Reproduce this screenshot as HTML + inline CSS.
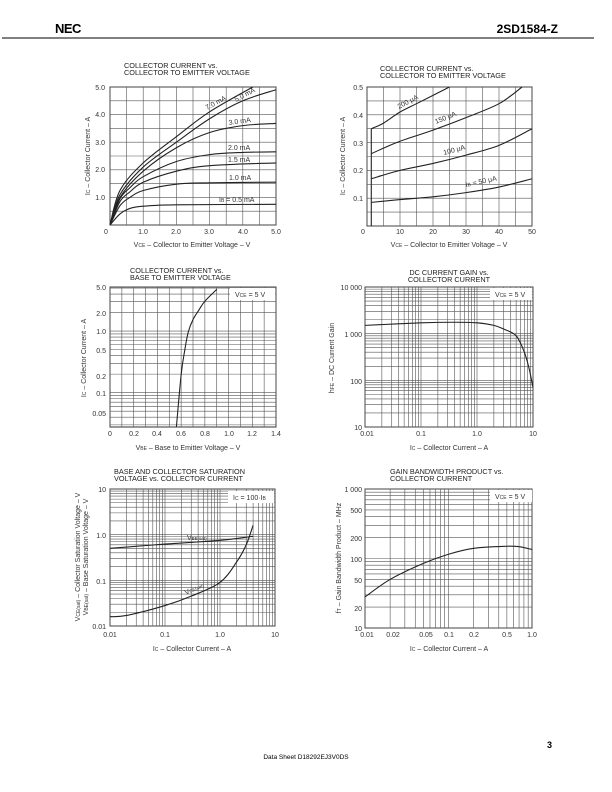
<!DOCTYPE html>
<html><head><meta charset="utf-8"><style>
html,body{margin:0;padding:0;background:#fff;}
svg{display:block;font-family:"Liberation Sans",sans-serif;}
text{fill:#333;font-size:7px;}
.t{font-size:7.3px;fill:#222;}
.g{stroke:#555;stroke-width:0.6;fill:none}
.c{stroke:#222;stroke-width:1.1;fill:none}
</style></head><body>
<svg id="s" width="612" height="792" viewBox="0 0 612 792">
<rect width="612" height="792" fill="#fff"/>
<text x="55" y="33" style="font-size:13px;font-weight:bold;fill:#000;letter-spacing:-0.5px">NEC</text>
<text x="558" y="33" text-anchor="end" style="font-size:12px;font-weight:bold;fill:#000">2SD1584-Z</text>
<line x1="2" y1="38" x2="594" y2="38" stroke="#000" stroke-width="1"/>
<text x="306" y="759" text-anchor="middle" style="font-size:6.5px;fill:#000">Data Sheet  D18292EJ3V0DS</text>
<text x="547" y="748" style="font-size:9px;font-weight:bold;fill:#000">3</text>
<g id="grids"></g><g id="curves"></g>

<!-- Chart 1 -->
<text class="t" x="124" y="68">COLLECTOR CURRENT  vs.</text>
<text class="t" x="124" y="75">COLLECTOR TO EMITTER VOLTAGE</text>
<g text-anchor="end"><text x="105" y="90">5.0</text><text x="105" y="117">4.0</text><text x="105" y="145">3.0</text><text x="105" y="172">2.0</text><text x="105" y="200">1.0</text></g>
<g text-anchor="middle"><text x="106" y="234">0</text><text x="143" y="234">1.0</text><text x="176" y="234">2.0</text><text x="209" y="234">3.0</text><text x="243" y="234">4.0</text><text x="276" y="234">5.0</text>
<text x="192" y="247">V<tspan font-size="5">CE</tspan> – Collector to Emitter Voltage – V</text>
<text transform="translate(90,156) rotate(-90)">I<tspan font-size="5">C</tspan> – Collector Current – A</text></g>
<text x="207" y="110" transform="rotate(-28 207 110)">7.0 mA</text>
<text x="236" y="102" transform="rotate(-28 236 102)">5.0 mA</text>
<text x="229" y="125" transform="rotate(-8 229 125)">3.0 mA</text>
<text x="228" y="150">2.0 mA</text>
<text x="228" y="162">1.5 mA</text>
<text x="229" y="180">1.0 mA</text>
<text x="219" y="202">I<tspan font-size="5">B</tspan> = 0.5 mA</text>

<!-- Chart 2 -->
<text class="t" x="380" y="71">COLLECTOR CURRENT  vs.</text>
<text class="t" x="380" y="78">COLLECTOR TO EMITTER VOLTAGE</text>
<g text-anchor="end"><text x="363" y="90">0.5</text><text x="363" y="118">0.4</text><text x="363" y="146">0.3</text><text x="363" y="173">0.2</text><text x="363" y="201">0.1</text></g>
<g text-anchor="middle"><text x="363" y="234">0</text><text x="400" y="234">10</text><text x="433" y="234">20</text><text x="466" y="234">30</text><text x="499" y="234">40</text><text x="532" y="234">50</text>
<text x="449" y="247">V<tspan font-size="5">CE</tspan> – Collector to Emitter Voltage – V</text>
<text transform="translate(345,156) rotate(-90)">I<tspan font-size="5">C</tspan> – Collector Current – A</text></g>
<text x="399" y="109" transform="rotate(-28 399 109)">200 μA</text>
<text x="436" y="124" transform="rotate(-22 436 124)">150 μA</text>
<text x="444" y="155" transform="rotate(-15 444 155)">100 μA</text>
<text x="466" y="187" transform="rotate(-12 466 187)">I<tspan font-size="5">B</tspan> = 50 μA</text>

<!-- Chart 3 -->
<text class="t" x="130" y="273">COLLECTOR CURRENT  vs.</text>
<text class="t" x="130" y="280">BASE TO EMITTER VOLTAGE</text>
<g text-anchor="end"><text x="106" y="290">5.0</text><text x="106" y="316">2.0</text><text x="106" y="334">1.0</text><text x="106" y="353">0.5</text><text x="106" y="379">0.2</text><text x="106" y="396">0.1</text><text x="106" y="416">0.05</text></g>
<g text-anchor="middle"><text x="110" y="436">0</text><text x="134" y="436">0.2</text><text x="157" y="436">0.4</text><text x="181" y="436">0.6</text><text x="205" y="436">0.8</text><text x="229" y="436">1.0</text><text x="252" y="436">1.2</text><text x="276" y="436">1.4</text>
<text x="188" y="450">V<tspan font-size="5">BE</tspan> – Base to Emitter Voltage – V</text>
<text transform="translate(86,358) rotate(-90)">I<tspan font-size="5">C</tspan> – Collector Current – A</text></g>
<rect x="230" y="288" width="45" height="12" fill="#fff"/><text x="235" y="297">V<tspan font-size="5">CE</tspan> = 5 V</text>

<!-- Chart 4 -->
<g text-anchor="middle"><text class="t" x="449" y="275">DC CURRENT GAIN vs.</text><text class="t" x="449" y="282">COLLECTOR CURRENT</text></g>
<g text-anchor="end"><text x="362" y="290">10 000</text><text x="362" y="337">1 000</text><text x="362" y="384">100</text><text x="362" y="430">10</text></g>
<g text-anchor="middle"><text x="367" y="436">0.01</text><text x="421" y="436">0.1</text><text x="477" y="436">1.0</text><text x="533" y="436">10</text>
<text x="449" y="450">I<tspan font-size="5">C</tspan> – Collector Current – A</text>
<text transform="translate(334,358) rotate(-90)">h<tspan font-size="5">FE</tspan> – DC Current Gain</text></g>
<rect x="490" y="288" width="42" height="12" fill="#fff"/><text x="495" y="297">V<tspan font-size="5">CE</tspan> = 5 V</text>

<!-- Chart 5 -->
<text class="t" x="114" y="474">BASE AND COLLECTOR SATURATION</text>
<text class="t" x="114" y="481">VOLTAGE vs. COLLECTOR CURRENT</text>
<g text-anchor="end"><text x="106" y="492">10</text><text x="106" y="538">1.0</text><text x="106" y="584">0.1</text><text x="106" y="629">0.01</text></g>
<g text-anchor="middle"><text x="110" y="637">0.01</text><text x="165" y="637">0.1</text><text x="220" y="637">1.0</text><text x="275" y="637">10</text>
<text x="192" y="651">I<tspan font-size="5">C</tspan> – Collector Current – A</text>
<text transform="translate(80,557) rotate(-90)">V<tspan font-size="5">CE(sat)</tspan> – Collector Saturation Voltage – V</text>
<text transform="translate(88,557) rotate(-90)">V<tspan font-size="5">BE(sat)</tspan> – Base Saturation Voltage – V</text></g>
<rect x="228" y="491" width="46" height="12" fill="#fff"/><text x="233" y="500">I<tspan font-size="5">C</tspan> = 100·I<tspan font-size="5">B</tspan></text>
<text x="187" y="540" font-size="6">V<tspan font-size="4.5">BE(sat)</tspan></text>
<text x="186" y="595" font-size="6" transform="rotate(-25 186 595)">V<tspan font-size="4.5">CE(sat)</tspan></text>

<!-- Chart 6 -->
<text class="t" x="390" y="474">GAIN BANDWIDTH PRODUCT vs.</text>
<text class="t" x="390" y="481">COLLECTOR CURRENT</text>
<g text-anchor="end"><text x="362" y="492">1 000</text><text x="362" y="513">500</text><text x="362" y="541">200</text><text x="362" y="562">100</text><text x="362" y="583">50</text><text x="362" y="611">20</text><text x="362" y="631">10</text></g>
<g text-anchor="middle"><text x="367" y="637">0.01</text><text x="393" y="637">0.02</text><text x="426" y="637">0.05</text><text x="449" y="637">0.1</text><text x="474" y="637">0.2</text><text x="507" y="637">0.5</text><text x="532" y="637">1.0</text>
<text x="449" y="651">I<tspan font-size="5">C</tspan> – Collector Current – A</text>
<text transform="translate(341,558) rotate(-90)">f<tspan font-size="5">T</tspan> – Gain Bandwidth Product – MHz</text></g>
<rect x="490" y="490" width="42" height="12" fill="#fff"/><text x="495" y="499">V<tspan font-size="5">CE</tspan> = 5 V</text>
</svg>
<script>
var NS="http://www.w3.org/2000/svg";
var G=document.getElementById('grids'),C=document.getElementById('curves');
function el(p,t,a){var e=document.createElementNS(NS,t);for(var k in a)e.setAttribute(k,a[k]);p.insertBefore(e,p.firstChild);return e;}
function lin(n){var r=[];for(var i=0;i<=n;i++)r.push(i/n);return r;}
function lg(dec){var r=[];for(var d=0;d<dec;d++)for(var k=1;k<10;k++)r.push((d+Math.log10(k))/dec);r.push(1);return r;}
function lgr(a,b){var r=[],la=Math.log10(a),lb=Math.log10(b);for(var d=Math.floor(la);d<lb;d++)for(var k=1;k<10;k++){var v=Math.log10(k*Math.pow(10,d));if(v>=la-1e-9&&v<=lb+1e-9)r.push((v-la)/(lb-la));}r.push(1);return r;}
function grid(x0,y0,x1,y1,xs,ys){var d="";xs.forEach(function(f){var x=x0+f*(x1-x0);d+="M"+x+" "+y0+"V"+y1;});ys.forEach(function(f){var y=y1-f*(y1-y0);d+="M"+x0+" "+y+"H"+x1;});el(G,'path',{d:d,'class':'g'});el(G,'rect',{x:x0,y:y0,width:x1-x0,height:y1-y0,fill:'none',stroke:'#333','stroke-width':1});}
function curve(pts,X,Y){var p=pts.map(function(q){return[X(q[0]),Y(q[1])];});var d="M"+p[0][0]+" "+p[0][1];for(var i=0;i<p.length-1;i++){var a=p[i-1]||p[i],b=p[i],c=p[i+1],e=p[i+2]||c;d+="C"+(b[0]+(c[0]-a[0])/6)+" "+(b[1]+(c[1]-a[1])/6)+" "+(c[0]-(e[0]-b[0])/6)+" "+(c[1]-(e[1]-b[1])/6)+" "+c[0]+" "+c[1];}el(C,'path',{d:d,'class':'c'});}
// chart1
grid(110,87,276,225,lin(10),lin(10));
var X1=function(v){return 110+v*33.2},Y1=function(i){return 225-i*27.6};
[[[0,0],[0.3,0.4],[0.6,0.6],[1,0.68],[2,0.73],[5,0.75]],
[[0,0],[0.3,0.7],[0.6,1.0],[1,1.25],[2,1.48],[3,1.53],[5,1.55]],
[[0,0],[0.3,0.85],[0.6,1.2],[1,1.55],[2,1.95],[3,2.15],[5,2.25]],
[[0,0],[0.3,0.95],[0.6,1.35],[1,1.75],[2,2.3],[3,2.55],[4,2.63],[5,2.65]],
[[0,0],[0.3,1.0],[1,1.95],[2,2.8],[3,3.35],[4,3.6],[5,3.68]],
[[0,0],[0.3,1.1],[1,2.1],[2,3.0],[3,3.85],[4,4.5],[5,4.9]],
[[0,0],[0.3,1.25],[1,2.25],[2,3.2],[3,4.1],[4.3,5.0]]].forEach(function(c){curve(c,X1,Y1)});
// chart2
grid(367,87,532,226,lin(10),lin(10));
var X2=function(v){return 367+v*3.3},Y2=function(i){return 226-i*278};
curve([[1.3,0],[1.3,0.35]],X2,Y2);
[[[1.3,0.085],[10,0.095],[20,0.105],[30,0.12],[40,0.14],[50,0.17]],
[[1.3,0.17],[10,0.2],[20,0.225],[30,0.255],[40,0.29],[50,0.35]],
[[1.3,0.26],[5,0.28],[10,0.305],[20,0.345],[30,0.39],[40,0.44],[47,0.5]],
[[1.3,0.35],[5,0.37],[10,0.41],[15,0.44],[20,0.47],[25,0.5]]].forEach(function(c){curve(c,X2,Y2)});
// chart3
grid(110,287,276,427,lin(14),lgr(0.0277,5.2));
curve([[0.56,0.028],[0.6,0.2],[0.63,0.5],[0.66,1.0],[0.7,1.6],[0.75,2.3],[0.8,3.2],[0.9,5]],function(v){return 110+v*118.6},function(i){return 332-61*Math.log10(i)});
// chart4
grid(365,287,533,427,lg(3),lg(3));
curve([[0.01,1500],[0.1,1700],[0.4,1750],[1,1700],[2,1500],[3,1250],[5,900],[7,400],[8.5,180],[10,70]],function(i){return 365+56*(Math.log10(i)+2)},function(h){return 427-46.7*(Math.log10(h)-1)});
// chart5
grid(110,489,275,626,lg(3),lg(3));
var X5=function(i){return 110+55*(Math.log10(i)+2)},Y5=function(v){return 626-45.7*(Math.log10(v)+2)};
curve([[0.01,0.5],[0.1,0.62],[1,0.75],[4,0.92]],X5,Y5);
curve([[0.01,0.016],[0.02,0.017],[0.1,0.028],[0.3,0.045],[1,0.09],[2,0.25],[3,0.6],[4,1.6]],X5,Y5);
// chart6
grid(365,489,532,628,lg(2),lg(2));
curve([[0.01,28],[0.02,50],[0.05,85],[0.1,115],[0.2,140],[0.5,150],[0.7,148],[1,135]],function(i){return 365+83.5*(Math.log10(i)+2)},function(f){return 628-69.5*(Math.log10(f)-1)});
</script>
</body></html>
